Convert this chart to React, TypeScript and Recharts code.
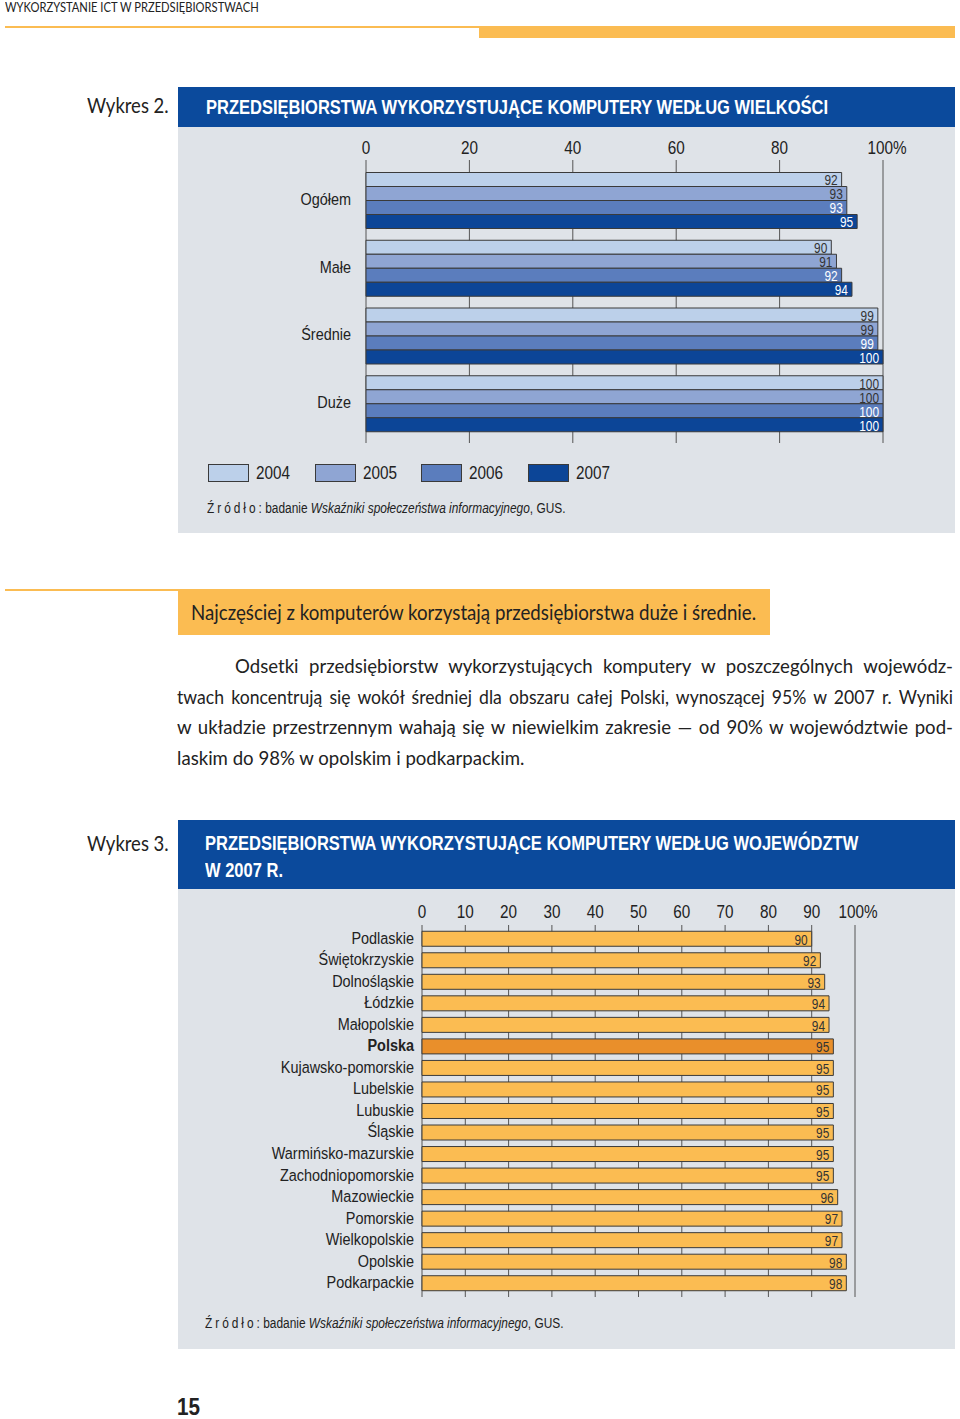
import React from 'react'
import { BarChart, Bar, XAxis, YAxis, CartesianGrid, LabelList, Cell } from 'recharts'

// no condensed faces are installed, so narrow text is drawn with scaleX
const SANS = '"Liberation Sans", Arial, sans-serif'
const BODY = 'Lato, "Liberation Sans", sans-serif'
const SQ = 0.85

// Wykres 2 – by size
const SIZES = ['Ogółem', 'Małe', 'Średnie', 'Duże']
const YEARS = ['2004', '2005', '2006', '2007']
const V2004 = [92, 90, 99, 100]
const V2005 = [93, 91, 99, 100]
const V2006 = [93, 92, 99, 100]
const V2007 = [95, 94, 100, 100]
const SIZE_TICKS = [0, 20, 40, 60, 80, 100]

// Wykres 3 – by voivodeship (2007)
const REGIONS = [
  'Podlaskie', 'Świętokrzyskie', 'Dolnośląskie', 'Łódzkie', 'Małopolskie', 'Polska',
  'Kujawsko-pomorskie', 'Lubelskie', 'Lubuskie', 'Śląskie', 'Warmińsko-mazurskie',
  'Zachodniopomorskie', 'Mazowieckie', 'Pomorskie', 'Wielkopolskie', 'Opolskie', 'Podkarpackie',
]
const REGION_VALUES = [90, 92, 93, 94, 94, 95, 95, 95, 95, 95, 95, 95, 96, 97, 97, 98, 98]
const REGION_TICKS = [0, 10, 20, 30, 40, 50, 60, 70, 80, 90, 100]

const YEAR_COLORS = ['#bcd0ea', '#8fa5d3', '#5b7dbd', '#0c4597']
const YEAR_LABEL_COLORS = ['#333', '#333', '#fff', '#fff']
const BLUE = '#0b4a9c'
const PANEL = '#dfe3e8'
const ORANGE = '#fbbc52'
const ORANGE_DARK = '#e98f2b'
const OUTLINE = '#3a3a3a'

const sizeData = SIZES.map((name, i) => ({
  name, y2004: V2004[i], y2005: V2005[i], y2006: V2006[i], y2007: V2007[i],
}))
const regionData = REGIONS.map((name, i) => ({ name, value: REGION_VALUES[i] }))

// svg text squeezed horizontally around its anchor
function SqText({ x, y, anchor, size, fill = '#222', weight = 400, children }: any) {
  return (
    <g transform={`translate(${x},${y}) scale(${SQ},1)`}>
      <text x={0} y={0} textAnchor={anchor} fill={fill} dominantBaseline="central"
        style={{ fontFamily: SANS, fontSize: size, fontWeight: weight }}>
        {children}
      </text>
    </g>
  )
}

function TopTick({ x, y, payload, dx100 }: any) {
  const last = payload.value === 100
  return <SqText x={x + (last ? dx100 : 0)} y={y - 6} anchor="middle" size={18}>{last ? '100%' : payload.value}</SqText>
}

function CatTick({ x, y, payload }: any) {
  return <SqText x={x} y={y - 1} anchor="end" size={17} weight={payload.value === 'Polska' ? 700 : 400}>{payload.value}</SqText>
}

function barLabel(fill: string) {
  return (p: any) => (
    <SqText x={p.x + p.width - 4} y={p.y + p.height / 2 + 1} anchor="end" size={14} fill={fill}>{p.value}</SqText>
  )
}

// html text squeezed horizontally from its left edge
function T({ left, top, size, scale = SQ, family = SANS, weight = 400, color = '#222', children, style }: any) {
  return (
    <div style={{
      position: 'absolute', left, top, fontSize: size, fontFamily: family, fontWeight: weight, color,
      whiteSpace: 'nowrap', lineHeight: 1.2, transform: `scaleX(${scale})`, transformOrigin: '0 0', ...style,
    }}>{children}</div>
  )
}

function Source({ left, top }: { left: number, top: number }) {
  return (
    <T left={left} top={top} size={14}>
      <span style={{ letterSpacing: 3.5 }}>Źródło</span>: badanie <i>Wskaźniki społeczeństwa informacyjnego</i>, GUS.
    </T>
  )
}

const abs = (s: React.CSSProperties): React.CSSProperties => ({ position: 'absolute', ...s })

const PARA = [
  'Odsetki przedsiębiorstw wykorzystujących komputery w poszczególnych wojewódz-',
  'twach koncentrują się wokół średniej dla obszaru całej Polski, wynoszącej 95% w 2007 r. Wyniki',
  'w układzie przestrzennym wahają się w niewielkim zakresie — od 90% w województwie pod-',
  'laskim do 98% w opolskim i podkarpackim.',
]
const PARA_SCALES = [0.93, 0.88, 0.93, 0.93]

export default function App() {
  return (
    <div style={abs({ left: 0, top: 0, width: 960, height: 1419, background: '#fff', color: '#222', overflow: 'hidden' })}>
      {/* page header */}
      <T left={5} top={0} size={13} family={BODY} scale={0.86}>WYKORZYSTANIE ICT W PRZEDSIĘBIORSTWACH</T>
      <div style={abs({ left: 5, top: 26, width: 475, height: 2, background: ORANGE })} />
      <div style={abs({ left: 479, top: 26, width: 476, height: 12, background: ORANGE })} />

      {/* Wykres 2 */}
      <T left={87} top={92} size={22} family={BODY} scale={0.84}>Wykres 2.</T>
      <div style={abs({ left: 178, top: 87, width: 777, height: 40, background: BLUE })} />
      <T left={206} top={94} size={21} weight={700} color="#fff" scale={0.786}>
        PRZEDSIĘBIORSTWA WYKORZYSTUJĄCE KOMPUTERY WEDŁUG WIELKOŚCI
      </T>
      <div style={abs({ left: 178, top: 127, width: 777, height: 406, background: PANEL })} />
      <div style={abs({ left: 178, top: 130 })}>
        <BarChart width={777} height={313} data={sizeData} layout="vertical"
          margin={{ top: 0, right: 72, bottom: 0, left: 0 }} barGap={0} barCategoryGap={6.5}>
          <CartesianGrid horizontal={false} stroke="#555" strokeWidth={1} />
          <XAxis type="number" orientation="top" domain={[0, 100]} ticks={SIZE_TICKS} height={30}
            axisLine={false} tickLine={false} tickSize={0} tickMargin={6} interval={0}
            tick={<TopTick dx100={4} />} />
          <YAxis type="category" dataKey="name" width={188} axisLine={false} tickLine={false}
            tickSize={0} tickMargin={15} padding={{ top: 6, bottom: 6 }} tick={<CatTick />} />
          {YEARS.map((yr, i) => (
            <Bar key={yr} dataKey={'y' + yr} fill={YEAR_COLORS[i]} stroke={OUTLINE} strokeWidth={1}
              isAnimationActive={false}>
              <LabelList dataKey={'y' + yr} content={barLabel(YEAR_LABEL_COLORS[i])} />
            </Bar>
          ))}
        </BarChart>
      </div>
      {YEARS.map((yr, i) => (
        <div key={yr}>
          <div style={abs({ left: 208 + i * 106.5, top: 464, width: 39, height: 16, background: YEAR_COLORS[i], border: '1px solid ' + OUTLINE })} />
          <T left={256 + i * 106.5} top={463} size={18}>{yr}</T>
        </div>
      ))}
      <Source left={207} top={500} />

      {/* text section */}
      <div style={abs({ left: 5, top: 589, width: 173, height: 2, background: ORANGE })} />
      <div style={abs({ left: 178, top: 589, width: 592, height: 46, background: ORANGE })} />
      <T left={191} top={599} size={21} family={BODY} scale={0.89}>
        Najczęściej z komputerów korzystają przedsiębiorstwa duże i średnie.
      </T>
      {PARA.map((line, i) => {
        const left = i === 0 ? 235 : 177
        const w = 953 - left
        const last = i === PARA.length - 1
        const s = PARA_SCALES[i]
        return (
          <div key={i} style={abs({
            left, top: 652 + i * 30.6, width: w / s, fontFamily: BODY, fontSize: 20, lineHeight: '26px',
            textAlign: last ? 'left' : 'justify', textAlignLast: last ? 'left' : 'justify',
            whiteSpace: last ? 'nowrap' : 'normal', transform: `scaleX(${s})`, transformOrigin: '0 0',
          })}>{line}</div>
        )
      })}

      {/* Wykres 3 */}
      <T left={87} top={830} size={22} family={BODY} scale={0.84}>Wykres 3.</T>
      <div style={abs({ left: 178, top: 820, width: 777, height: 69, background: BLUE })} />
      <T left={205} top={829} size={21} weight={700} color="#fff" scale={0.786} style={{ lineHeight: '27px' }}>
        PRZEDSIĘBIORSTWA WYKORZYSTUJĄCE KOMPUTERY WEDŁUG WOJEWÓDZTW<br />W 2007 R.
      </T>
      <div style={abs({ left: 178, top: 889, width: 777, height: 460, background: PANEL })} />
      <div style={abs({ left: 178, top: 889 })}>
        <BarChart width={777} height={408} data={regionData} layout="vertical"
          margin={{ top: 0, right: 100, bottom: 0, left: 0 }} barCategoryGap={3.25}>
          <CartesianGrid horizontal={false} stroke="#555" strokeWidth={1} />
          <XAxis type="number" orientation="top" domain={[0, 100]} ticks={REGION_TICKS} height={36}
            axisLine={false} tickLine={false} tickSize={0} tickMargin={7} interval={0}
            tick={<TopTick dx100={3} />} />
          <YAxis type="category" dataKey="name" width={244} axisLine={false} tickLine={false}
            tickSize={0} tickMargin={8} padding={{ top: 3, bottom: 3 }} interval={0} tick={<CatTick />} />
          <Bar dataKey="value" fill={ORANGE} stroke={OUTLINE} strokeWidth={1} isAnimationActive={false}>
            {regionData.map((d) => (
              <Cell key={d.name} fill={d.name === 'Polska' ? ORANGE_DARK : ORANGE} />
            ))}
            <LabelList dataKey="value" content={barLabel('#333')} />
          </Bar>
        </BarChart>
      </div>
      <Source left={205} top={1315} />

      <T left={177} top={1394} size={23} weight={700} scale={0.9}>15</T>
    </div>
  )
}
